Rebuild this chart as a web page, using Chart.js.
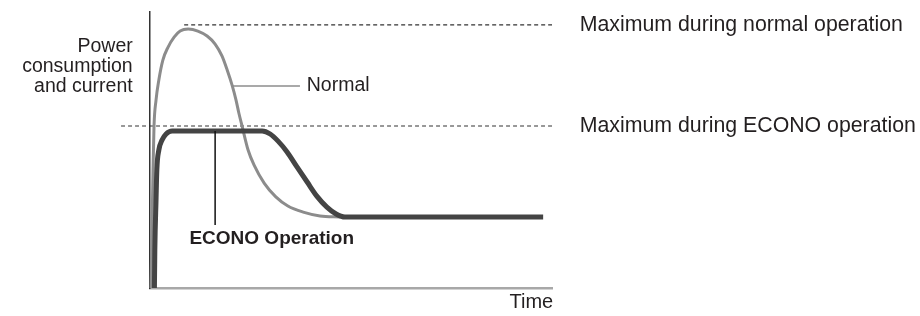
<!DOCTYPE html>
<html>
<head>
<meta charset="utf-8">
<script src="https://cdn.jsdelivr.net/npm/chart.js@4"></script>
<style>
html,body{margin:0;padding:0;background:#fff;}
#wrap{width:920px;height:316px;}
</style>
</head>
<body>
<div id="wrap"><canvas id="c" width="920" height="316"></canvas></div>
<script>
// Time (0-100) and power/current (0-100), arbitrary relative units
const normalTime  = [0.25, 0.5, 0.75, 1.0, 1.5, 2.2, 3.2, 4.5, 6.0, 7.5, 9.5, 11.9, 14.2, 16.2, 17.9, 19.2, 20.4, 21.4, 22.1, 22.9, 24.4, 25.9, 28.4, 31.3, 34.3, 38.1, 42.3, 47.3];
const normalPower = [0, 21.0, 42.8, 58.7, 68.1, 75.4, 82.6, 87.3, 90.9, 93.1, 93.8, 93.1, 91.3, 88.4, 84.1, 79.0, 73.6, 68.1, 63.4, 58.7, 50.0, 44.5, 38.0, 33.0, 29.7, 27.5, 26.1, 25.7];

const econoTime   = [1.1, 1.2, 1.5, 1.7, 2.2, 3.0, 4.0, 5.5, 27.9, 29.9, 31.8, 34.1, 36.6, 39.1, 41.5, 44.0, 46.3, 48.5, 97.8];
const econoPower  = [0, 13.8, 31.9, 42.8, 50.0, 53.6, 55.8, 56.9, 56.9, 55.8, 53.3, 49.3, 43.8, 38.4, 33.3, 29.3, 26.8, 25.7, 25.7];

const maxNormalLevel = 95.3;
const maxEconoLevel  = 58.7;
const maxNormalSpan  = [8.5, 100];
const maxEconoSpan   = [-7.2, 100];

const labelNormal  = "Normal";
const labelEcono   = "ECONO Operation";
const labelMaxNormal = "Maximum during normal operation";
const labelMaxEcono  = "Maximum during ECONO operation";
const labelTime    = "Time";
const labelYLines  = ["Power", "consumption", "and current"];

const toPts = (xs, ys) => xs.map((x, i) => ({x: x, y: ys[i]}));

// annotation placement (layout, not data)
const notes = {
  normalLeader: {x1: 20.6, x2: 37.3, y: 73.2},
  econoLeader:  {x: 16.2, y1: 56.9, y2: 22.8},
  normalText:   {x: 39.0, y: 73.2},
  econoText:    {x: 9.8, y: 18.0},
  maxText:      {x: 106.9},
  timeText:     {x: 100.3, y: -5.4},
  yText:        {x: -4.3, ys: [87.6, 80.3, 73.0]}
};

const FONT = '"Liberation Sans", Arial, Helvetica, sans-serif';

const textPlugin = {
  id: 'texts',
  afterDatasetsDraw(chart) {
    const ctx = chart.ctx, xs = chart.scales.x, ys = chart.scales.y;
    const X = v => xs.getPixelForValue(v), Y = v => ys.getPixelForValue(v);
    ctx.save();
    // leader lines
    ctx.lineWidth = 1.5;
    ctx.strokeStyle = '#8c8c8c';
    ctx.beginPath();
    ctx.moveTo(X(notes.normalLeader.x1), Y(notes.normalLeader.y));
    ctx.lineTo(X(notes.normalLeader.x2), Y(notes.normalLeader.y));
    ctx.stroke();
    ctx.strokeStyle = '#111';
    ctx.beginPath();
    ctx.moveTo(X(notes.econoLeader.x), Y(notes.econoLeader.y1));
    ctx.lineTo(X(notes.econoLeader.x), Y(notes.econoLeader.y2));
    ctx.stroke();

    ctx.fillStyle = '#231f20';
    ctx.textBaseline = 'middle';
    ctx.textAlign = 'left';
    ctx.font = '19.5px ' + FONT;
    ctx.fillText(labelNormal, X(notes.normalText.x), Y(notes.normalText.y));
    ctx.font = '21.3px ' + FONT;
    ctx.fillText(labelMaxNormal, X(notes.maxText.x), Y(maxNormalLevel));
    ctx.fillText(labelMaxEcono, X(notes.maxText.x), Y(maxEconoLevel));
    ctx.textAlign = 'right';
    ctx.font = '20px ' + FONT;
    ctx.fillText(labelTime, X(notes.timeText.x), Y(notes.timeText.y));
    ctx.font = '19.5px ' + FONT;
    labelYLines.forEach((t, i) => ctx.fillText(t, X(notes.yText.x), Y(notes.yText.ys[i])));
    ctx.textAlign = 'left';
    ctx.font = 'bold 19px ' + FONT;
    ctx.fillText(labelEcono, X(notes.econoText.x), Y(notes.econoText.y));
    ctx.restore();
  }
};

new Chart(document.getElementById('c'), {
  type: 'line',
  data: {
    datasets: [
      {label: 'ECONO', data: toPts(econoTime, econoPower), borderColor: '#444', borderWidth: 5,
       pointRadius: 0, cubicInterpolationMode: 'monotone', order: 0, clip: false, borderCapStyle: 'butt'},
      {label: 'Normal', data: toPts(normalTime, normalPower), borderColor: '#8c8c8c', borderWidth: 3,
       pointRadius: 0, cubicInterpolationMode: 'monotone', order: 1, clip: false},
      {label: 'maxN', data: toPts(maxNormalSpan, [maxNormalLevel, maxNormalLevel]), borderColor: '#333',
       borderWidth: 1.2, borderDash: [4, 3], pointRadius: 0, order: 2, clip: false},
      {label: 'maxE', data: toPts(maxEconoSpan, [maxEconoLevel, maxEconoLevel]), borderColor: '#333',
       borderWidth: 1.2, borderDash: [4, 3], pointRadius: 0, order: 2, clip: false}
    ]
  },
  options: {
    responsive: false,
    animation: false,
    devicePixelRatio: 1,
    layout: {padding: {left: 150, right: 368, top: 12, bottom: 28}},
    plugins: {legend: {display: false}, tooltip: {enabled: false}},
    scales: {
      x: {type: 'linear', min: 0, max: 100,
          grid: {display: false, drawTicks: false}, ticks: {display: false},
          border: {display: true, color: '#a8a8a8', width: 2.5}},
      y: {type: 'linear', min: 0, max: 100,
          grid: {display: false, drawTicks: false}, ticks: {display: false},
          border: {display: true, color: '#333', width: 1.5}}
    }
  },
  plugins: [textPlugin]
});
</script>
</body>
</html>
